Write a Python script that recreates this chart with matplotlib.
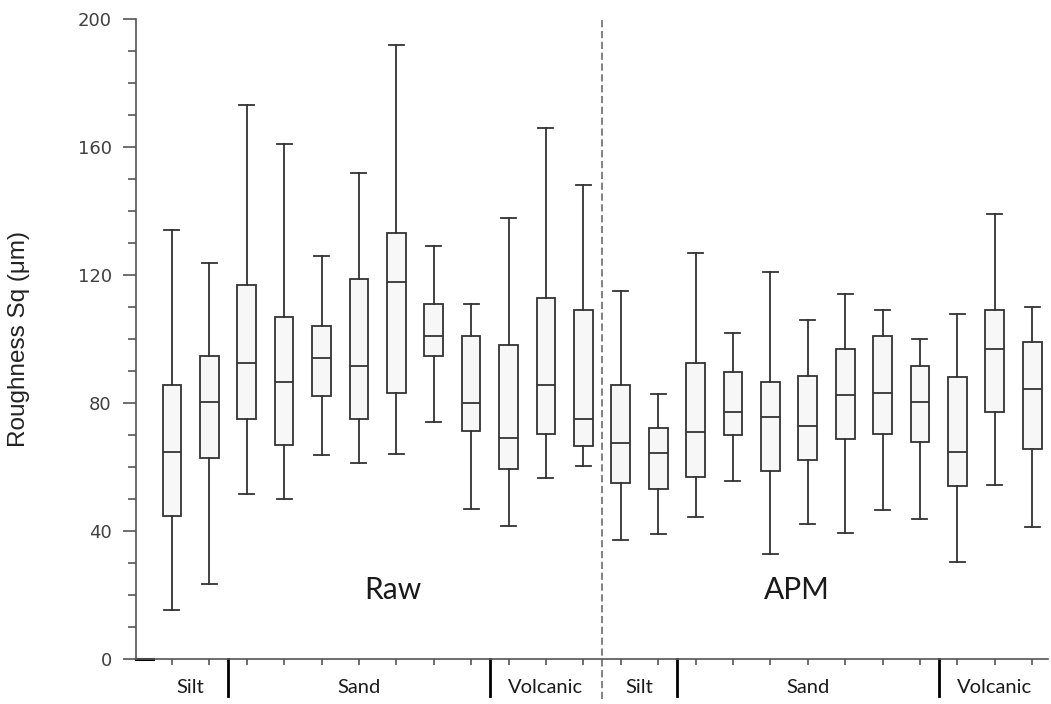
import numpy as np
import matplotlib.pyplot as plt
from matplotlib.ticker import MultipleLocator
import matplotlib.transforms as mtransforms

# 24 boxes: Raw (Silt x2, Sand x7, Volcanic x3), APM (same)
whis_lo = [15.3, 23.3, 51.6, 50.1, 63.8, 61.2, 64.1, 74.1, 46.8, 41.7, 56.6, 60.3,
           37.2, 39.1, 44.5, 55.7, 32.7, 42.1, 39.3, 46.5, 43.8, 30.2, 54.4, 41.2]
q1 = [44.7, 62.7, 74.9, 66.8, 82.3, 74.9, 83.0, 94.7, 71.1, 59.5, 70.3, 66.6,
      54.9, 53.2, 57.0, 69.9, 58.8, 62.2, 68.8, 70.2, 67.7, 54.1, 77.3, 65.6]
med = [64.6, 80.2, 92.4, 86.7, 93.9, 91.4, 117.9, 100.9, 79.9, 69.0, 85.7, 74.9,
       67.6, 64.5, 70.9, 77.1, 75.7, 72.9, 82.5, 83.2, 80.2, 64.7, 97.0, 84.3]
q3 = [85.6, 94.8, 116.9, 106.8, 103.9, 118.9, 133.0, 110.9, 100.8, 98.0, 112.9, 109.0,
      85.7, 72.3, 92.6, 89.8, 86.7, 88.4, 97.0, 100.8, 91.7, 88.0, 108.9, 98.9]
whis_hi = [134.0, 123.8, 173.0, 161.0, 125.9, 152.0, 192.0, 129.1, 110.9, 137.9, 166.0, 148.0,
           114.9, 82.8, 126.8, 101.8, 120.8, 105.9, 114.0, 109.0, 100.0, 107.8, 139.0, 109.9]

groups = ['Silt', 'Sand', 'Volcanic', 'Silt', 'Sand', 'Volcanic']
group_sizes = [2, 7, 3, 2, 7, 3]
panels = ['Raw', 'APM']

stats = []
for i in range(len(med)):
    stats.append({'whislo': whis_lo[i], 'q1': q1[i], 'med': med[i],
                  'q3': q3[i], 'whishi': whis_hi[i], 'fliers': []})
pos = np.arange(1, len(med) + 1)

fig = plt.figure(figsize=(10.51, 7.04), dpi=100)
ax = fig.add_axes([0.1294, 0.064, 0.868, 0.909])

line_c = '#333333'
ax.bxp(stats, positions=pos, widths=0.5, patch_artist=True, showfliers=False,
       boxprops=dict(facecolor='#f7f7f7', edgecolor=line_c, linewidth=1.3),
       medianprops=dict(color=line_c, linewidth=1.3),
       whiskerprops=dict(color=line_c, linewidth=1.3),
       capprops=dict(color=line_c, linewidth=1.3),
       capwidths=0.4, manage_ticks=False)

ax.set_xlim(0.04, 24.43)
ax.set_ylim(0, 200)
ax.yaxis.set_major_locator(MultipleLocator(40))
ax.yaxis.set_minor_locator(MultipleLocator(10))
ax.set_xticks(pos)
ax.set_xticklabels([])

for s in ['top', 'right']:
    ax.spines[s].set_visible(False)
for s in ['left', 'bottom']:
    ax.spines[s].set_color('#555555')
    ax.spines[s].set_linewidth(1.2)

ax.tick_params(axis='y', which='major', length=9.5, width=1.2, color='#555555',
               labelsize=13, labelcolor='#404040', pad=8)
ax.tick_params(axis='y', which='minor', length=6, width=1.2, color='#555555')
ax.tick_params(axis='x', which='major', length=4.5, width=1.2, color='#555555')
for t in ax.get_yticklabels():
    t.set_fontfamily('DejaVu Sans')

ax.set_ylabel('Roughness Sq (μm)', fontsize=17.5, family='Liberation Sans',
              color='#222222')
ax.yaxis.set_label_coords(-0.116, 0.5)

# short dark segment at the origin
ax.axhline(0, xmin=0, xmax=0.019, color='black', linewidth=2.2, clip_on=False)

# separator between Raw and APM
ax.axvline(12.5, ymin=-0.063, ymax=1.0, color='#777777', linestyle='--',
           linewidth=1.3, dashes=(4, 2), clip_on=False)

trans = mtransforms.blended_transform_factory(ax.transData, ax.transAxes)
edges = np.concatenate([[0.5], 0.5 + np.cumsum(group_sizes)])
for k, g in enumerate(groups):
    left, right = edges[k], edges[k + 1]
    if k not in (0, 3):
        ax.plot([left, left], [0, -0.058], transform=trans, color='black',
                linewidth=2, clip_on=False)
    ax.text((left + right) / 2, -0.045, g, transform=trans, ha='center',
            va='center', fontsize=14.5, family='Lato', color='#1a1a1a')

ax.text(6.91, 21.6, panels[0], ha='center', va='center', fontsize=21.5,
        family='Lato', color='#1a1a1a')
ax.text(17.7, 21.6, panels[1], ha='center', va='center', fontsize=21.5,
        family='Lato', color='#1a1a1a')

fig.savefig('out.png', dpi=100)
